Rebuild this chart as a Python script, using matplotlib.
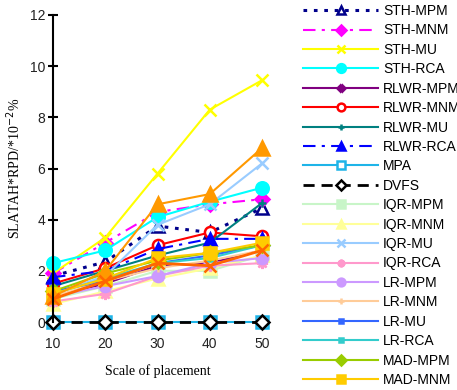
import matplotlib
matplotlib.use("Agg")
import matplotlib.pyplot as plt

scales = [10, 20, 30, 40, 50]
yticks = [0, 2, 4, 6, 8, 10, 12]

names = ["STH-MPM", "STH-MNM", "STH-MU", "STH-RCA", "RLWR-MPM", "RLWR-MNM",
         "RLWR-MU", "RLWR-RCA", "MPA", "DVFS", "IQR-MPM", "IQR-MNM", "IQR-MU",
         "IQR-RCA", "LR-MPM", "LR-MNM", "LR-MU", "LR-RCA", "MAD-MPM", "MAD-MNM",
         "MAD-MU", "MAD-RCA"]

sth_mpm = [1.8, 2.35, 3.75, 3.5, 4.45]
sth_mnm = [1.9, 3.1, 4.3, 4.6, 4.8]
sth_mu = [1.9, 3.3, 5.8, 8.3, 9.45]
sth_rca = [2.3, 2.8, 4.1, 4.7, 5.25]
rlwr_mpm = [1.0, 1.5, 2.2, 2.3, 2.8]
rlwr_mnm = [1.5, 2.1, 3.0, 3.5, 3.35]
rlwr_mu = [1.4, 2.0, 2.6, 3.1, 4.65]
rlwr_rca = [1.75, 2.0, 2.85, 3.25, 3.25]
mpa = [0, 0, 0, 0, 0]
dvfs = [0, 0, 0, 0, 0]
iqr_mpm = [0.9, 1.4, 2.0, 2.0, 2.6]
iqr_mnm = [0.7, 1.2, 1.7, 2.1, 2.6]
iqr_mu = [1.1, 1.8, 3.8, 4.6, 6.2]
iqr_rca = [0.8, 1.1, 1.8, 2.2, 2.3]
lr_mpm = [1.0, 1.4, 1.8, 2.3, 2.5]
lr_mnm = [1.0, 1.6, 2.1, 2.4, 2.8]
lr_mu = [1.2, 1.6, 2.3, 2.6, 3.0]
lr_rca = [1.1, 1.7, 2.3, 2.5, 3.0]
mad_mpm = [1.2, 1.9, 2.4, 2.7, 3.0]
mad_mnm = [1.1, 1.7, 2.5, 2.7, 3.1]
mad_mu = [1.0, 2.0, 4.6, 5.0, 6.8]
mad_rca = [0.9, 1.6, 2.3, 2.2, 2.8]

values = [sth_mpm, sth_mnm, sth_mu, sth_rca, rlwr_mpm, rlwr_mnm, rlwr_mu,
          rlwr_rca, mpa, dvfs, iqr_mpm, iqr_mnm, iqr_mu, iqr_rca, lr_mpm,
          lr_mnm, lr_mu, lr_rca, mad_mpm, mad_mnm, mad_mu, mad_rca]

# (color, linestyle, marker, markerfacecolor, markersize, lw)
styles = [
    ("#00008B", (0, (1.2, 2.2)), "^", "white", 9, 2.2),
    ("#FF00FF", (0, (6, 3, 1.5, 3)), "D", "#FF00FF", 7, 1.5),
    ("#FFFF00", "-", "x", "#FFFF00", 9, 1.5),
    ("#00FFFF", "-", "o", "#00FFFF", 9, 1.5),
    ("#800080", "-", "X", "#800080", 6, 1.5),
    ("#FF0000", "-", "o", "white", 8, 1.5),
    ("#008080", "-", "+", "#008080", 6, 1.5),
    ("#0000FF", (0, (6, 3, 1.5, 3)), "^", "#0000FF", 9, 1.5),
    ("#1EB4E8", "-", "s", "white", 9, 1.5),
    ("#000000", (0, (4, 2.5)), "D", "white", 7, 2.0),
    ("#C8F5C8", "-", "s", "#C8F5C8", 8, 1.5),
    ("#FFFF99", "-", "^", "#FFFF99", 9, 1.5),
    ("#99CCFF", "-", "x", "#99CCFF", 8, 1.5),
    ("#FF99CC", "-", (8, 2, 0), "#FF99CC", 8, 1.5),
    ("#CC99FF", "-", "o", "#CC99FF", 8, 1.5),
    ("#FFCC99", "-", "+", "#FFCC99", 6, 1.5),
    ("#3366FF", "-", "s", "#3366FF", 4, 1.5),
    ("#33CCCC", "-", "s", "#33CCCC", 5, 1.5),
    ("#99CC00", "-", "D", "#99CC00", 7, 1.5),
    ("#FFCC00", "-", "s", "#FFCC00", 9, 1.5),
    ("#FF9900", "-", "^", "#FF9900", 10, 1.5),
    ("#FF6600", "-", "x", "#FF6600", 9, 2.0),
]

fig = plt.figure(figsize=(4.57, 3.90), dpi=100)
ax = fig.add_axes([53/457, 1 - 322/390, (262 - 53)/457, (322 - 15)/390])

for name, vals, (c, ls, m, mfc, ms, lw) in zip(names, values, styles):
    ax.plot(scales, vals, color=c, linestyle=ls, marker=m, markerfacecolor=mfc,
            markeredgecolor=c, markersize=ms, linewidth=lw, markeredgewidth=1.8,
            label=name, clip_on=False)

ax.set_xlim(10, 50)
ax.set_ylim(0, 12)
ax.set_xticks(scales)
ax.set_yticks(yticks)
for s in ["top", "right", "bottom"]:
    ax.spines[s].set_visible(False)
ax.spines["left"].set_linewidth(1.5)
ax.tick_params(axis="y", direction="inout", length=7, width=1.5, labelsize=10, pad=2)
ax.tick_params(axis="x", length=0, labelsize=10, pad=11)
for lab in ax.get_xticklabels() + ax.get_yticklabels():
    lab.set_fontfamily("Liberation Sans")
    lab.set_color("#222222")

ax.set_xlabel("Scale of placement", family="Liberation Serif", fontsize=10, labelpad=9)
ax.set_ylabel("SLATAH*RPD/*10$^{-2}$%", family="Liberation Serif", fontsize=10, labelpad=5)

leg = fig.legend(loc="upper left", bbox_to_anchor=(303/457, 1 - 4/390), frameon=False,
                 prop={"family": "Liberation Sans", "size": 10}, handlelength=5.4,
                 handletextpad=0.35, labelspacing=0.39, borderpad=0, borderaxespad=0,
                 markerscale=0.7)

fig.savefig("out.png", dpi=100)
